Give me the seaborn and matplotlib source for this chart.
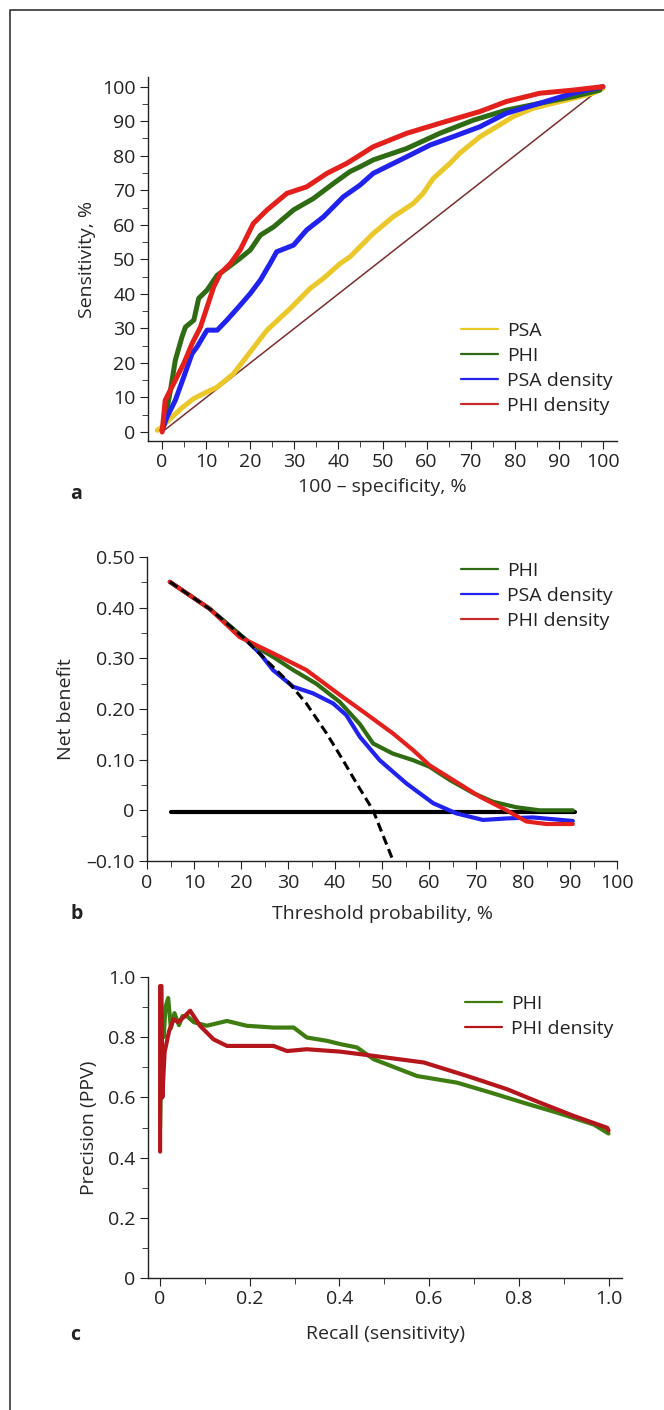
import matplotlib
matplotlib.use("Agg")
import matplotlib.pyplot as plt
import seaborn as sns
import pandas as pd
from matplotlib.lines import Line2D
from matplotlib.ticker import MultipleLocator

# ---- panel a: ROC curves (100 - specificity %, sensitivity %) ----
psa_fpr = [-1.1, 0, 1.9, 4.5, 7.2, 10, 12.5, 16.2, 20, 23.8, 29.1, 33.6, 36.6, 40.4, 42.6,
           47.9, 52.4, 57, 59.2, 61.5, 65.3, 67.5, 72.1, 75.9, 79.6, 84.1, 88.7, 93.2, 97.7, 100]
psa_tpr = [0.5, 1.5, 3.9, 7, 9.7, 11.5, 13, 16.9, 23.2, 29.5, 35.8, 41.6, 44.5, 48.8, 50.7,
           57.5, 62.3, 66.2, 69.1, 73.4, 77.8, 80.7, 85.5, 88.4, 91.3, 93.7, 95.2, 96.6, 98.1, 99.5]

phi_fpr = [0, 1.0, 1.9, 3, 4.5, 5.3, 7.2, 8.3, 10.2, 12.5, 14.7, 17.7, 20, 22.3, 25.3, 29.8,
           34.3, 38.9, 42.6, 44.9, 47.9, 55.5, 63, 70.6, 78.1, 85.7, 93.2, 99.3]
phi_tpr = [0.5, 6, 12.1, 20.8, 27.5, 30.4, 32.4, 38.7, 41.1, 45.4, 47.4, 50.3, 52.7, 57, 59.4,
           64.3, 67.6, 72, 75.4, 76.8, 78.8, 82.1, 86.5, 90.3, 93.2, 95.2, 97.1, 99]

psad_fpr = [0, 1.1, 3, 4.9, 6.8, 7.9, 10.2, 12.5, 14.7, 17.7, 20, 22.3, 24.5, 26, 29.8, 32.8,
            36.6, 41.1, 44.9, 47.9, 55.5, 60.8, 66, 72.1, 78.1, 85.7, 93.2, 100]
psad_tpr = [0.5, 4.3, 9.2, 15.9, 22.7, 24.6, 29.5, 29.5, 32.4, 36.7, 40.1, 44, 48.8, 52.2, 54.1,
            58.5, 62.3, 68.1, 71.5, 74.9, 79.7, 83.1, 85.5, 88.4, 92.3, 95.2, 98.1, 100]

phid_fpr = [0, 0.7, 2.6, 4.9, 6.8, 8.7, 10.2, 11.7, 13.2, 15.5, 17.7, 20.7, 23.8, 28.3, 32.8,
            37.4, 41.9, 44.9, 47.9, 55.5, 63, 72.1, 78.1, 85.7, 93.2, 100]
phid_tpr = [0, 9.2, 14, 19.8, 25.6, 30.4, 36.2, 42, 45.9, 48.8, 52.7, 60.4, 64.3, 69.1, 71,
            74.9, 77.8, 80.2, 82.6, 86.5, 89.4, 92.8, 95.7, 98.1, 99, 100]

diag_fpr = [0, 100]
diag_tpr = [0, 100]

# ---- panel b: decision curves (threshold %, net benefit) ----
all_thr = [4.85, 13.3, 20.4, 25.4, 29.7, 33.9, 38.2, 41.7, 44.6, 48.1, 52.3]
all_nb = [0.451, 0.398, 0.342, 0.296, 0.257, 0.211, 0.152, 0.099, 0.053, 0.0, -0.098]

none_thr = [5, 91]
none_nb = [-0.003, -0.003]

phi_thr = [4.85, 13.3, 20.4, 22.6, 26.8, 31.1, 36, 41, 45.3, 48.1, 52.3, 56.6, 60.1, 64.4,
           69.4, 73.6, 78.6, 83.6, 90.6]
phi_nb = [0.451, 0.398, 0.342, 0.326, 0.303, 0.277, 0.25, 0.214, 0.17, 0.132, 0.112, 0.099,
          0.086, 0.06, 0.034, 0.017, 0.006, 0.0, 0.0]

psad_thr = [4.85, 13.3, 21.1, 24, 26.8, 31.1, 35.3, 39.6, 42.4, 45.3, 49.5, 55.2, 60.9, 65.8,
            71.5, 76.5, 82.1, 90.6]
psad_nb = [0.451, 0.398, 0.336, 0.31, 0.277, 0.244, 0.231, 0.211, 0.188, 0.145, 0.099, 0.053,
           0.014, -0.006, -0.019, -0.016, -0.014, -0.021]

phid_thr = [4.85, 13.3, 19.7, 26.8, 33.9, 41, 46.7, 52.3, 56.6, 60.1, 65.1, 70.8, 76.5, 80.7,
            85, 90.6]
phid_nb = [0.451, 0.398, 0.342, 0.31, 0.277, 0.228, 0.19, 0.152, 0.119, 0.089, 0.06, 0.027,
           0.0, -0.022, -0.027, -0.027]

# ---- panel c: precision-recall ----
phi_rec = [0, 0.004, 0.008, 0.012, 0.018, 0.024, 0.032, 0.042, 0.05, 0.06, 0.075, 0.104,
           0.149, 0.193, 0.253, 0.298, 0.327, 0.372, 0.402, 0.439, 0.476, 0.573, 0.662, 0.737,
           0.811, 0.886, 0.967, 1.0]
phi_prec = [0.5, 0.86, 0.8, 0.9, 0.93, 0.83, 0.88, 0.84, 0.87, 0.87, 0.85, 0.838,
            0.854, 0.838, 0.832, 0.832, 0.799, 0.788, 0.777, 0.766, 0.727, 0.671, 0.649, 0.616,
            0.582, 0.549, 0.51, 0.48]

phid_rec = [0, 0, 0.003, 0.005, 0.01, 0.02, 0.03, 0.04, 0.055, 0.067, 0.089, 0.119, 0.149,
            0.193, 0.253, 0.283, 0.327, 0.402, 0.476, 0.588, 0.685, 0.774, 0.848, 0.923, 0.997, 1.0]
phid_prec = [0.42, 0.97, 0.97, 0.6, 0.75, 0.82, 0.86, 0.85, 0.87, 0.888, 0.838, 0.793, 0.771,
             0.771, 0.771, 0.754, 0.76, 0.752, 0.738, 0.716, 0.671, 0.627, 0.582, 0.538, 0.499, 0.49]

# colours
c_psa = "#ebc82a"
c_phi = "#2f6b12"
c_psad = "#2222ee"
c_phid = "#e3201c"
c_diag = "#7a2e2e"

FS = 14

sns.set_style("ticks")
plt.rcParams["font.family"] = ["Open Sans", "DejaVu Sans"]
plt.rcParams["font.size"] = FS
plt.rcParams["axes.linewidth"] = 1.0
plt.rcParams["xtick.major.size"] = 6
plt.rcParams["ytick.major.size"] = 6
plt.rcParams["xtick.minor.size"] = 4
plt.rcParams["ytick.minor.size"] = 4
plt.rcParams["xtick.color"] = "#222222"
plt.rcParams["ytick.color"] = "#222222"
plt.rcParams["text.color"] = "#222222"

W, H = 664, 1410
fig = plt.figure(figsize=(W / 100, H / 100), dpi=100)


def axes_px(left, top, right, bottom):
    return fig.add_axes([left / W, 1 - bottom / H, (right - left) / W, (bottom - top) / H])


def style(ax):
    sns.despine(ax=ax)
    for s in ["left", "bottom"]:
        ax.spines[s].set_color("#222222")
    ax.tick_params(labelsize=FS, pad=3)


def curve(ax, x, y, color, lw, **kw):
    d = pd.DataFrame({"x": x, "y": y})
    sns.lineplot(data=d, x="x", y="y", ax=ax, color=color, linewidth=lw, sort=False,
                 estimator=None, **kw)


def legend(ax, handles, labels, x, y):
    ax.legend(handles, labels, frameon=False, fontsize=FS, loc="upper left",
              bbox_to_anchor=(x / W, 1 - y / H), bbox_transform=fig.transFigure,
              handlelength=1.9, handletextpad=0.45, labelspacing=0.36,
              borderpad=0, borderaxespad=0)


# ---------------- panel a ----------------
ax1 = axes_px(148, 77, 617, 441)
curve(ax1, diag_fpr, diag_tpr, c_diag, 1.1)
curve(ax1, psa_fpr, psa_tpr, c_psa, 3.6)
curve(ax1, phi_fpr, phi_tpr, c_phi, 3.6)
curve(ax1, psad_fpr, psad_tpr, c_psad, 3.6)
curve(ax1, phid_fpr, phid_tpr, c_phid, 3.6)
ax1.set_xlim(-3.2, 103.2)
ax1.set_ylim(-2.6, 102.8)
ax1.xaxis.set_major_locator(MultipleLocator(10))
ax1.xaxis.set_minor_locator(MultipleLocator(5))
ax1.yaxis.set_major_locator(MultipleLocator(10))
ax1.yaxis.set_minor_locator(MultipleLocator(5))
ax1.set_xlabel("100 – specificity, %", fontsize=FS, labelpad=5)
ax1.set_ylabel("Sensitivity, %", fontsize=FS, labelpad=4)
style(ax1)
h1 = [Line2D([], [], color=c_psa, lw=1.6), Line2D([], [], color=c_phi, lw=1.6),
      Line2D([], [], color=c_psad, lw=1.6), Line2D([], [], color="#c42a2a", lw=1.6)]
legend(ax1, h1, ["PSA", "PHI", "PSA density", "PHI density"], 461, 322)

# ---------------- panel b ----------------
ax2 = axes_px(147, 557, 617, 861)
curve(ax2, none_thr, none_nb, "black", 3.0)
curve(ax2, psad_thr, psad_nb, c_psad, 3.0)
curve(ax2, phi_thr, phi_nb, c_phi, 3.0)
curve(ax2, phid_thr, phid_nb, c_phid, 3.0)
curve(ax2, all_thr, all_nb, "black", 2.2, linestyle=(0, (3, 1.6)))
ax2.set_xlim(0, 100)
ax2.set_ylim(-0.1, 0.5)
ax2.xaxis.set_major_locator(MultipleLocator(10))
ax2.xaxis.set_minor_locator(MultipleLocator(5))
ax2.set_yticks([-0.1, 0, 0.1, 0.2, 0.3, 0.4, 0.5])
ax2.set_yticklabels(["–0.10", "0", "0.10", "0.20", "0.30", "0.40", "0.50"])
ax2.yaxis.set_minor_locator(MultipleLocator(0.05))
ax2.set_xlabel("Threshold probability, %", fontsize=FS, labelpad=10)
ax2.set_ylabel("Net benefit", fontsize=FS, labelpad=8)
style(ax2)
h2 = [Line2D([], [], color=c_phi, lw=1.6), Line2D([], [], color=c_psad, lw=1.6),
      Line2D([], [], color="#c42a2a", lw=1.6)]
legend(ax2, h2, ["PHI", "PSA density", "PHI density"], 461, 562)

# ---------------- panel c ----------------
c_phi_c = "#3f7d12"
c_phid_c = "#b5161b"
ax3 = axes_px(148, 977, 622, 1278)
curve(ax3, phi_rec, phi_prec, c_phi_c, 3.0)
curve(ax3, phid_rec, phid_prec, c_phid_c, 3.0)
ax3.set_xlim(-0.027, 1.03)
ax3.set_ylim(0, 1.0)
ax3.set_xticks([0, 0.2, 0.4, 0.6, 0.8, 1.0])
ax3.set_xticklabels(["0", "0.2", "0.4", "0.6", "0.8", "1.0"])
ax3.xaxis.set_minor_locator(MultipleLocator(0.1))
ax3.set_yticks([0, 0.2, 0.4, 0.6, 0.8, 1.0])
ax3.set_yticklabels(["0", "0.2", "0.4", "0.6", "0.8", "1.0"])
ax3.yaxis.set_minor_locator(MultipleLocator(0.1))
ax3.set_xlabel("Recall (sensitivity)", fontsize=FS, labelpad=12)
ax3.set_ylabel("Precision (PPV)", fontsize=FS, labelpad=7)
style(ax3)
h3 = [Line2D([], [], color=c_phi_c, lw=1.6), Line2D([], [], color=c_phid_c, lw=1.6)]
legend(ax3, h3, ["PHI", "PHI density"], 465, 995)

# panel letters
for letter, y in [("a", 494), ("b", 914), ("c", 1335)]:
    fig.text(70 / W, 1 - y / H, letter, fontsize=FS, fontweight="bold", va="center", ha="left")

# outer frame (top and left edges visible)
fig.add_artist(Line2D([10 / W, 10 / W, 1.0], [0, 1 - 10 / H, 1 - 10 / H],
                      transform=fig.transFigure, color="#333333", lw=1.2))

fig.savefig("out.png", dpi=100)
